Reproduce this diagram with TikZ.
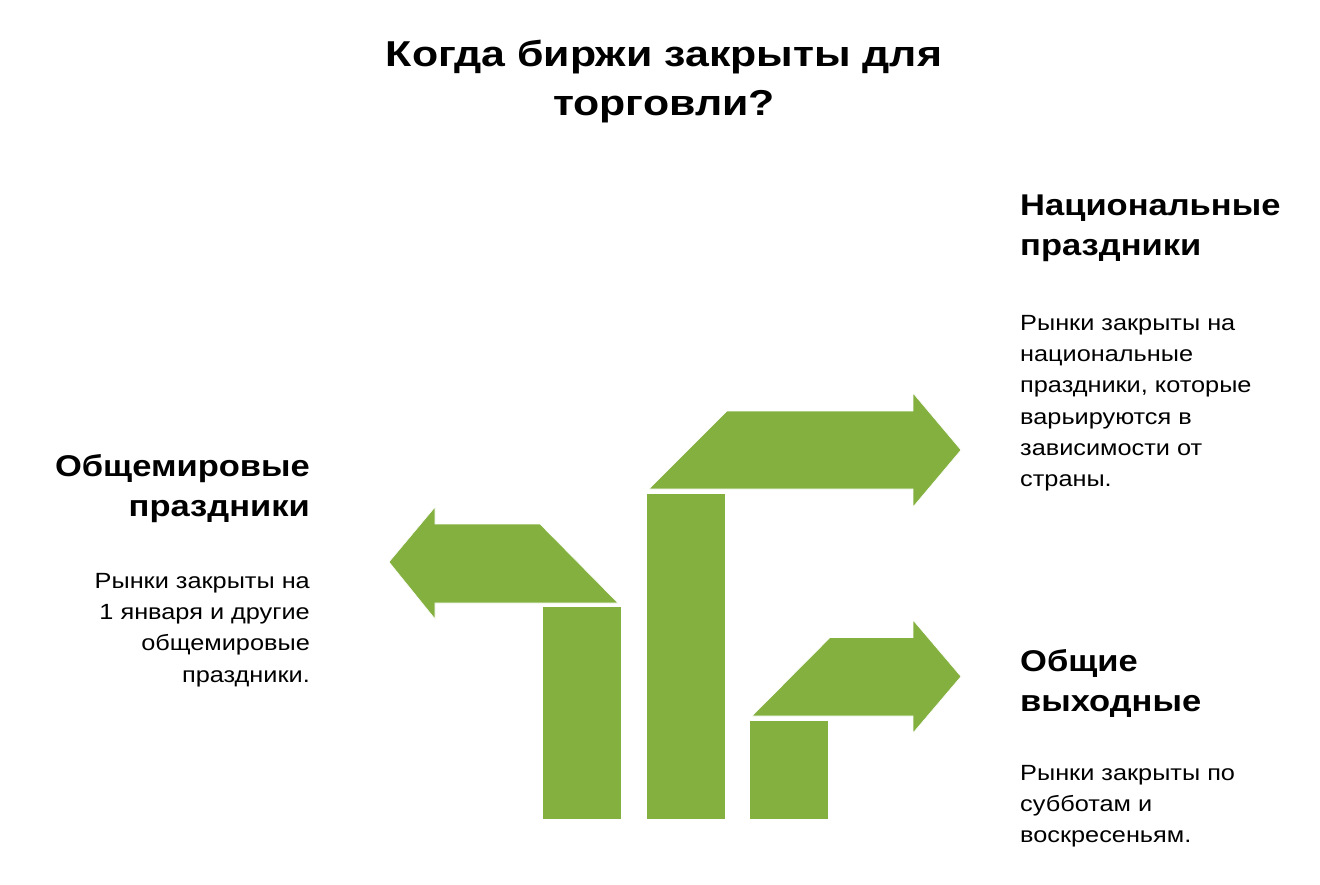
\documentclass[tikz,border=0pt]{standalone}
\usepackage{fontspec}
\setmainfont{Liberation Sans}
\newfontfamily\titlefont{Liberation Sans}[FakeStretch=1.19]
\newfontfamily\widefont{Liberation Sans}[FakeStretch=1.15]
\definecolor{leaf}{RGB}{131,176,62}
\tikzset{
  greenpart/.style={fill=leaf, draw=white, line width=0.6pt},
  titletext/.style={font=\titlefont\bfseries\fontsize{36}{49}\selectfont, align=center, inner sep=0pt},
  headtext/.style={font=\widefont\bfseries\fontsize{30}{40}\selectfont, inner sep=0pt},
  bodytext/.style={font=\widefont\fontsize{22}{31.3}\selectfont, inner sep=0pt},
}
\begin{document}
\begin{tikzpicture}[x=1pt,y=-1pt]
\path[use as bounding box, fill=white] (0,0) rectangle (1320,884);

% left arrow and bar
\filldraw[greenpart] (618,603) -- (540,524) -- (435,524) -- (435,507) -- (389,562) -- (435,619) -- (435,603) -- cycle;
\filldraw[greenpart] (542,606) rectangle (621,819);

% upper right arrow and tall bar
\filldraw[greenpart] (649,489) -- (727,411) -- (913,411) -- (913,393) -- (961,450) -- (913,507) -- (913,489) -- cycle;
\filldraw[greenpart] (646,493) rectangle (725,819);

% lower right arrow and short bar
\filldraw[greenpart] (752,716) -- (830,637.5) -- (913,637.5) -- (913,620) -- (961,676.5) -- (913,733) -- (913,716) -- cycle;
\filldraw[greenpart] (749,720) rectangle (828,819);

\node[titletext, anchor=north] (title) at (664,40) {Когда биржи закрыты для\\торговли?};

\node[headtext, anchor=north west, align=left] (nath) at (1020,195) {Национальные\\праздники};
\node[bodytext, anchor=north west, align=left] (natb) at (1020,315) {Рынки закрыты на\\национальные\\праздники, которые\\варьируются в\\зависимости от\\страны.};

\node[headtext, anchor=north east, align=right] (worldh) at (310,454) {Общемировые\\праздники};
\node[bodytext, anchor=north east, align=right] (worldb) at (310,573) {Рынки закрыты на\\1 января и другие\\общемировые\\праздники.};

\node[headtext, anchor=north west, align=left] (weekh) at (1020,649) {Общие\\выходные};
\node[bodytext, anchor=north west, align=left] (weekb) at (1020,765) {Рынки закрыты по\\субботам и\\воскресеньям.};
\end{tikzpicture}
\end{document}
